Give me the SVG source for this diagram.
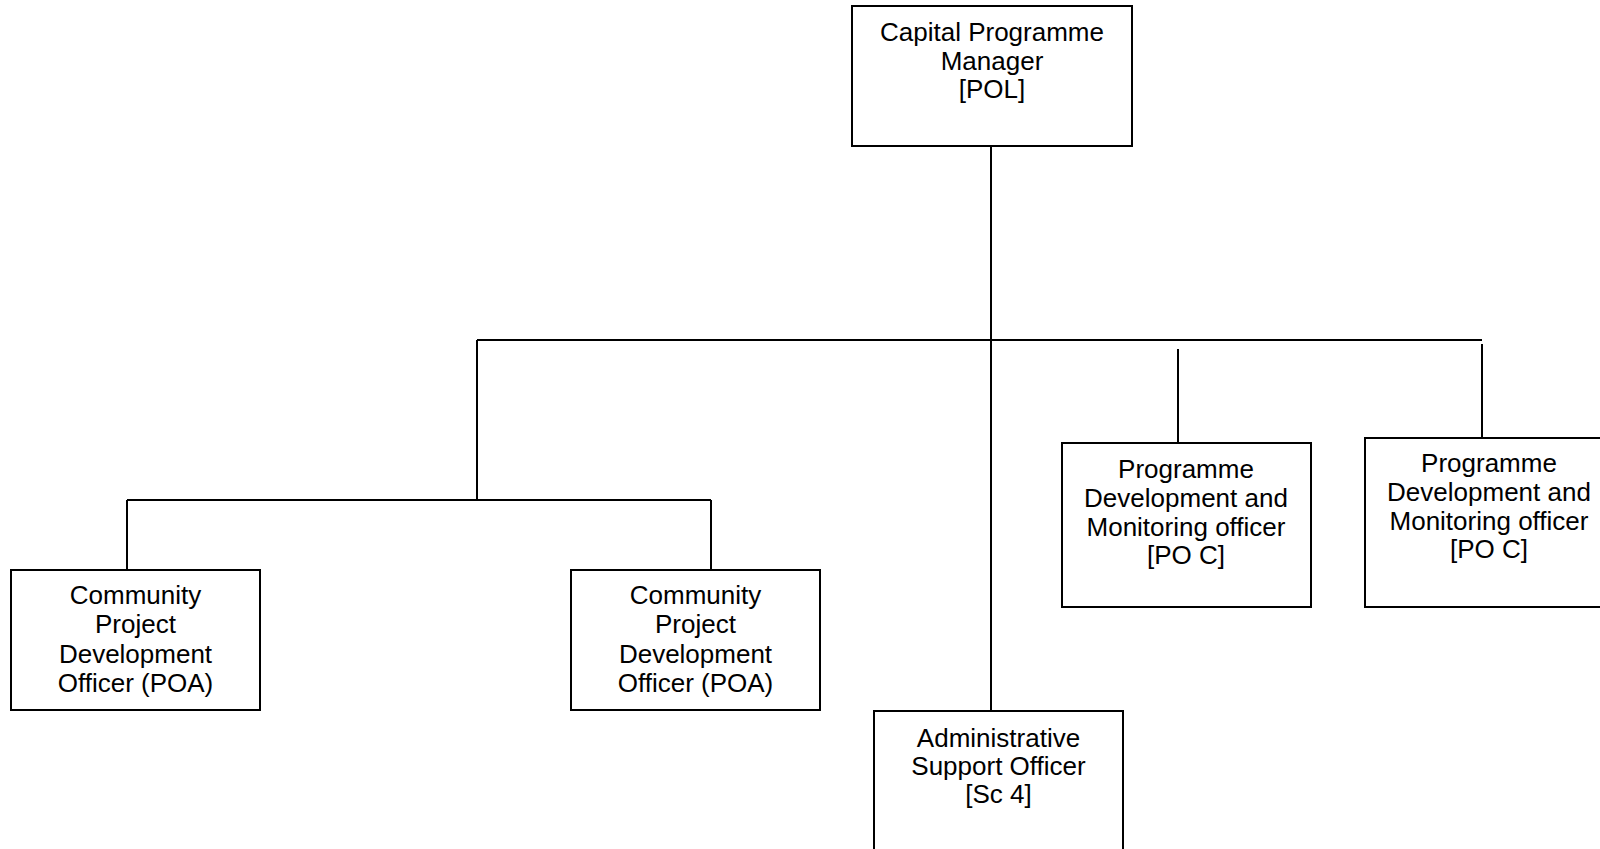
<svg xmlns="http://www.w3.org/2000/svg" width="1600" height="849" viewBox="0 0 1600 849">
<style>
.box{fill:#fff;stroke:#000;stroke-width:2}
.ln{stroke:#000;stroke-width:2;fill:none}
text{font-family:"Liberation Sans",Arial,sans-serif;font-size:26px;fill:#000;text-anchor:middle}
</style>
<rect width="1600" height="849" fill="#fff"/>
<g id="connectors">
<line class="ln" x1="991" y1="146" x2="991" y2="711"/>
<line class="ln" x1="477" y1="340" x2="1482" y2="340"/>
<line class="ln" x1="477" y1="340" x2="477" y2="500"/>
<line class="ln" x1="127" y1="500" x2="711" y2="500"/>
<line class="ln" x1="127" y1="500" x2="127" y2="570"/>
<line class="ln" x1="711" y1="500" x2="711" y2="570"/>
<line class="ln" x1="1178" y1="349" x2="1178" y2="443"/>
<line class="ln" x1="1482" y1="344" x2="1482" y2="438"/>
</g>
<g id="capital-programme-manager">
<rect class="box" x="852" y="6" width="280" height="140"/>
<text x="992" y="41">Capital Programme</text>
<text x="992" y="70">Manager</text>
<text x="992" y="98">[POL]</text>
</g>
<g id="cpdo-1">
<rect class="box" x="11" y="570" width="249" height="140"/>
<text x="135.5" y="603.5">Community</text>
<text x="135.5" y="633">Project</text>
<text x="135.5" y="662.5">Development</text>
<text x="135.5" y="692">Officer (POA)</text>
</g>
<g id="cpdo-2">
<rect class="box" x="571" y="570" width="249" height="140"/>
<text x="695.5" y="603.5">Community</text>
<text x="695.5" y="633">Project</text>
<text x="695.5" y="662.5">Development</text>
<text x="695.5" y="692">Officer (POA)</text>
</g>
<g id="admin-support-officer">
<rect class="box" x="874" y="711" width="249" height="160"/>
<text x="998.5" y="747">Administrative</text>
<text x="998.5" y="775">Support Officer</text>
<text x="998.5" y="803">[Sc 4]</text>
</g>
<g id="pdmo-1">
<rect class="box" x="1062" y="443" width="249" height="164"/>
<text x="1186" y="478">Programme</text>
<text x="1186" y="507">Development and</text>
<text x="1186" y="536">Monitoring officer</text>
<text x="1186" y="564">[PO C]</text>
</g>
<g id="pdmo-2">
<rect class="box" x="1365" y="438" width="248" height="169"/>
<text x="1489" y="472">Programme</text>
<text x="1489" y="501">Development and</text>
<text x="1489" y="530">Monitoring officer</text>
<text x="1489" y="558">[PO C]</text>
</g>
</svg>
